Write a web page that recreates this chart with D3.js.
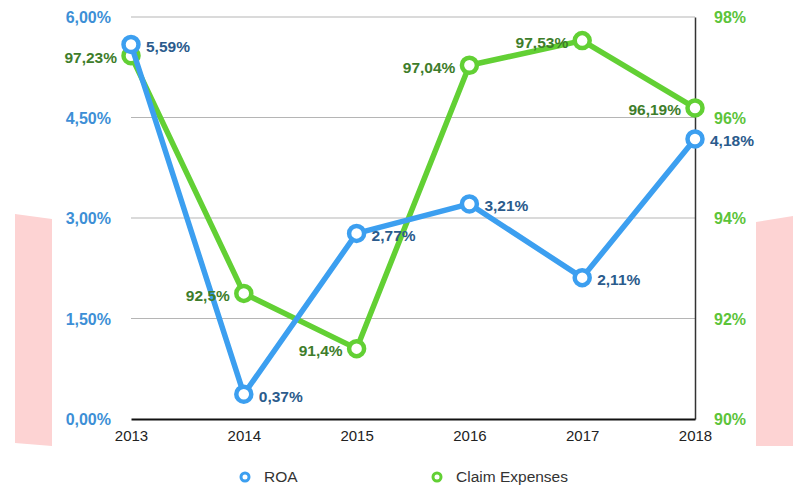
<!DOCTYPE html>
<html><head><meta charset="utf-8">
<script src="https://cdn.jsdelivr.net/npm/d3@7"></script>
<style>body{margin:0;background:#fff}svg{display:block;font-family:"Liberation Sans",Arial,Helvetica,sans-serif}</style>
</head><body><svg id="c" width="793" height="486"></svg>
<script>
const years = ["2013","2014","2015","2016","2017","2018"];
const roa = [5.59, 0.37, 2.77, 3.21, 2.11, 4.18];
const claims = [97.23, 92.5, 91.4, 97.04, 97.53, 96.19];
const leftTicks = [0, 1.5, 3, 4.5, 6];
const rightTicks = [90, 92, 94, 96, 98];

const svg = d3.select("#c");
const L = 131, R = 695, T = 17, B = 419;
const x = d3.scalePoint().domain(years).range([L, R]);
const yL = d3.scaleLinear().domain([0, 6]).range([B, T]);
const yR = d3.scaleLinear().domain([90, 98]).range([B, T]);
const fmt = (v, d) => v.toFixed(d).replace(".", ",") + "%";

const blue = "#3c9ff0", green = "#62d034", blueLbl = "#2b5b8c", greenLbl = "#3e7d2b";
const blueTick = "#3d8fd6", greenTick = "#5cc43a";

// pink side decorations
svg.append("polygon").attr("points", "15,214 52,219 52,446 15,443").attr("fill", "#fdd3d3");
svg.append("polygon").attr("points", "756,222 793,216 793,446 756,446").attr("fill", "#fdd3d3");

// grid
svg.append("g").selectAll("line").data(leftTicks.slice(1)).join("line")
  .attr("x1", L).attr("x2", R).attr("y1", d => yL(d)).attr("y2", d => yL(d))
  .attr("stroke", "#b5b5b5").attr("stroke-width", 1);

// left axis labels
const gl = svg.append("g").attr("transform", `translate(${L},0)`)
  .call(d3.axisLeft(yL).tickValues(leftTicks).tickSize(0).tickPadding(20).tickFormat(d => fmt(d, 2)));
gl.select(".domain").remove();
gl.selectAll("text").attr("fill", blueTick).attr("font-size", 16).attr("font-weight", "bold")
  .attr("font-family", "Liberation Sans, Arial, sans-serif").attr("dy", "0.35em");

// right axis
const gr = svg.append("g").attr("transform", `translate(${R},0)`)
  .call(d3.axisRight(yR).tickValues(rightTicks).tickSize(0).tickPadding(19).tickFormat(d => d + "%"));
gr.select(".domain").attr("stroke", "#333").attr("stroke-width", 1.5);
gr.selectAll("text").attr("fill", greenTick).attr("font-size", 16).attr("font-weight", "bold")
  .attr("font-family", "Liberation Sans, Arial, sans-serif").attr("dy", "0.35em");

// bottom axis
const gb = svg.append("g").attr("transform", `translate(0,${B})`)
  .call(d3.axisBottom(x).tickSize(0).tickPadding(11));
gb.select(".domain").attr("stroke", "#111").attr("stroke-width", 2);
gb.selectAll("text").attr("fill", "#222").attr("font-size", 15)
  .attr("font-family", "Liberation Sans, Arial, sans-serif");

// lines
const lineG = d3.line().x((d, i) => x(years[i])).y(d => yR(d));
const lineB = d3.line().x((d, i) => x(years[i])).y(d => yL(d));
svg.append("path").attr("d", lineG(claims)).attr("fill", "none").attr("stroke", green).attr("stroke-width", 5.5).attr("stroke-linejoin", "round");
svg.append("g").selectAll("circle").data(claims).join("circle")
  .attr("cx", (d, i) => x(years[i])).attr("cy", d => yR(d)).attr("r", 7.5)
  .attr("fill", "#fff").attr("stroke", green).attr("stroke-width", 4.5);
svg.append("path").attr("d", lineB(roa)).attr("fill", "none").attr("stroke", blue).attr("stroke-width", 5.5).attr("stroke-linejoin", "round");
svg.append("g").selectAll("circle").data(roa).join("circle")
  .attr("cx", (d, i) => x(years[i])).attr("cy", d => yL(d)).attr("r", 7.5)
  .attr("fill", "#fff").attr("stroke", blue).attr("stroke-width", 4.5);

// data labels
const claimTxt = c => String(c).replace(".", ",") + "%";
svg.append("g").selectAll("text").data(claims).join("text")
  .attr("x", (d, i) => x(years[i]) - 14).attr("y", d => yR(d) + 2).attr("dy", "0.35em")
  .attr("text-anchor", "end").attr("fill", greenLbl).attr("font-size", 15.5).attr("font-weight", "bold")
  .text(claimTxt);
svg.append("g").selectAll("text").data(roa).join("text")
  .attr("x", (d, i) => x(years[i]) + 15).attr("y", d => yL(d) + 2).attr("dy", "0.35em")
  .attr("text-anchor", "start").attr("fill", blueLbl).attr("font-size", 15.5).attr("font-weight", "bold")
  .text(d => fmt(d, 2));

// legend
const leg = [{name: "ROA", c: blue, x: 245}, {name: "Claim Expenses", c: green, x: 437}];
const lg = svg.append("g").selectAll("g").data(leg).join("g").attr("transform", d => `translate(${d.x},477)`);
lg.append("circle").attr("r", 4).attr("fill", "#fff").attr("stroke", d => d.c).attr("stroke-width", 3);
lg.append("text").attr("x", 19).attr("dy", "0.35em").attr("font-size", 15.5).attr("fill", "#333").text(d => d.name);
</script></body></html>
